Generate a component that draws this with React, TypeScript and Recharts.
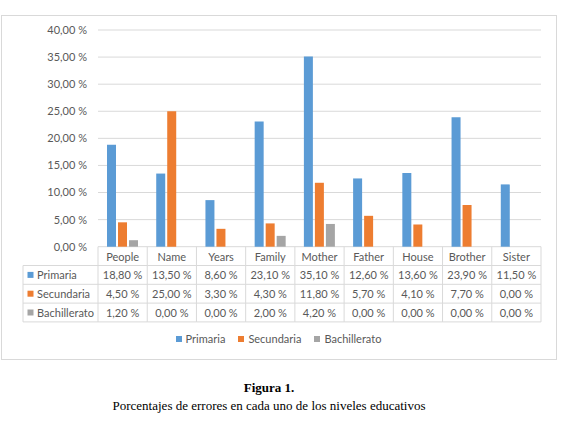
import React from 'react';
import { BarChart, Bar, XAxis, YAxis, CartesianGrid, Legend } from 'recharts';

const categories = ['People', 'Name', 'Years', 'Family', 'Mother', 'Father', 'House', 'Brother', 'Sister'];
const primaria = [18.8, 13.5, 8.6, 23.1, 35.1, 12.6, 13.6, 23.9, 11.5];
const secundaria = [4.5, 25.0, 3.3, 4.3, 11.8, 5.7, 4.1, 7.7, 0.0];
const bachillerato = [1.2, 0.0, 0.0, 2.0, 4.2, 0.0, 0.0, 0.0, 0.0];
const yTicks = [0, 5, 10, 15, 20, 25, 30, 35, 40];

const series = [
  { key: 'primaria', name: 'Primaria', color: '#5B9BD5', values: primaria },
  { key: 'secundaria', name: 'Secundaria', color: '#ED7D31', values: secundaria },
  { key: 'bachillerato', name: 'Bachillerato', color: '#A5A5A5', values: bachillerato },
];

const data = categories.map((c, i) => {
  const row: any = { category: c };
  series.forEach((s) => {
    row[s.key] = s.values[i];
  });
  return row;
});

const fmt = (v: number) => v.toFixed(2).replace('.', ',') + ' %';

const TEXT = '#595959';
const LINE = '#D9D9D9';
const FONT = 'Lato, "Open Sans", sans-serif';
const ROW_H = 18.8;

const TableTick = (props: any) => {
  const { x, y, payload, index } = props;
  const half = payload && payload.offset ? payload.offset : 24.6;
  const left = x - half;
  const right = x + half;
  const ci = categories.indexOf(payload.value);
  const bottom = y + ROW_H * 4;
  const labelLeft = left - 75;
  return (
    <g>
      <line x1={left} x2={left} y1={y} y2={bottom} stroke={LINE} strokeWidth={1} />
      {index === categories.length - 1 && (
        <line x1={right} x2={right} y1={y} y2={bottom} stroke={LINE} strokeWidth={1} />
      )}
      {[1, 2, 3, 4].map((k) => (
        <line key={k} x1={left} x2={right} y1={y + ROW_H * k} y2={y + ROW_H * k} stroke={LINE} strokeWidth={1} />
      ))}
      <text x={x} y={y + ROW_H / 2} textAnchor="middle" dominantBaseline="central" fill={TEXT} fontSize={11} fontFamily={FONT}>
        {payload.value}
      </text>
      {series.map((s, k) => (
        <text key={s.key} x={x} y={y + ROW_H * (k + 1.5)} textAnchor="middle" dominantBaseline="central" fill={TEXT} fontSize={11} fontFamily={FONT}>
          {fmt(s.values[ci])}
        </text>
      ))}
      {index === 0 && (
        <g>
          <line x1={labelLeft} x2={labelLeft} y1={y + ROW_H} y2={bottom} stroke={LINE} strokeWidth={1} />
          {[1, 2, 3, 4].map((k) => (
            <line key={k} x1={labelLeft} x2={left} y1={y + ROW_H * k} y2={y + ROW_H * k} stroke={LINE} strokeWidth={1} />
          ))}
          {series.map((s, k) => (
            <g key={s.key}>
              <rect x={labelLeft + 4.5} y={y + ROW_H * (k + 1.5) - 3} width={6} height={6} fill={s.color} />
              <text x={labelLeft + 14} y={y + ROW_H * (k + 1.5)} dominantBaseline="central" fill={TEXT} fontSize={11} fontFamily={FONT}>
                {s.name}
              </text>
            </g>
          ))}
        </g>
      )}
    </g>
  );
};

const LegendContent = () => {
  return (
    <div style={{ display: 'flex', justifyContent: 'center', alignItems: 'center', height: 14 }}>
      {series.map((s, i) => (
        <div key={s.key} style={{ display: 'flex', alignItems: 'center', marginLeft: i === 0 ? 0 : 13 }}>
          <div style={{ width: 6, height: 6, background: s.color, marginRight: 4 }} />
          <span style={{ fontFamily: FONT, fontSize: 11, color: TEXT, lineHeight: '14px' }}>{s.name}</span>
        </div>
      ))}
    </div>
  );
};

export default function App() {
  return (
    <div style={{ position: 'absolute', left: 0, top: 0, width: 587, height: 427, background: '#fff' }}>
      <div
        style={{
          position: 'absolute',
          left: 1,
          top: 15,
          width: 556,
          height: 345,
          border: `1px solid ${LINE}`,
          boxSizing: 'border-box',
        }}
      />
      <div style={{ position: 'absolute', left: 0, top: 0 }}>
        <BarChart
          width={587}
          height={427}
          data={data}
          margin={{ top: 30, right: 46, bottom: 80.3, left: 0 }}
          barGap={2}
          barSize={9}
        >
          <CartesianGrid horizontal vertical={false} stroke={LINE} strokeWidth={1} />
          <XAxis
            dataKey="category"
            height={100}
            axisLine={false}
            tickLine={false}
            tickSize={0}
            tickMargin={0}
            interval={0}
            tick={<TableTick />}
          />
          <YAxis
            width={98}
            domain={[0, 40]}
            ticks={yTicks}
            tickFormatter={fmt}
            axisLine={false}
            tickLine={false}
            tickSize={0}
            tickMargin={11}
            tick={{ fill: TEXT, fontSize: 11, fontFamily: FONT }}
          />
          {series.map((s) => (
            <Bar key={s.key} dataKey={s.key} name={s.name} fill={s.color} isAnimationActive={false} />
          ))}
          <Legend
            verticalAlign="middle"
            align="center"
            layout="horizontal"
            wrapperStyle={{ position: 'absolute', top: 332, left: 0, width: 557 }}
            content={<LegendContent />}
          />
        </BarChart>
      </div>
      <div
        style={{
          position: 'absolute',
          left: 0,
          top: 379,
          width: 538,
          textAlign: 'center',
          fontFamily: '"Liberation Serif", "Times New Roman", serif',
          fontSize: 13,
          lineHeight: '18px',
          color: '#000',
        }}
      >
        <div style={{ fontWeight: 'bold' }}>Figura 1.</div>
        <div>Porcentajes de errores en cada uno de los niveles educativos</div>
      </div>
    </div>
  );
}
